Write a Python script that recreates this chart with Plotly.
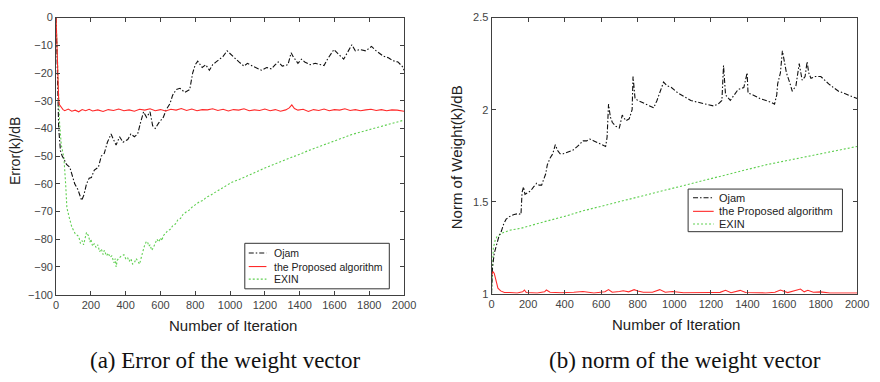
import plotly.graph_objects as go

W, H = 880, 382

# ---------------- data ----------------
# (a) Error of the weight vector
a_ojam_x = [0, 8, 15, 25, 35, 45, 60, 79, 95, 107,
            125, 147, 160, 175, 190, 203, 220, 243, 260, 277,
            295, 316, 330, 345, 365, 385, 412, 430, 450, 469,
            485, 503, 520, 540, 555, 570, 590, 616, 635, 655,
            670, 690, 712, 740, 768, 785, 800, 814, 840, 860,
            881, 900, 920, 938, 960, 983, 1000, 1020, 1051, 1080,
            1100, 1130, 1160, 1181, 1210, 1238, 1260, 1277, 1300, 1333,
            1351, 1362, 1390, 1410, 1429, 1460, 1490, 1520, 1540, 1560,
            1580, 1597, 1620, 1653, 1680, 1700, 1720, 1746, 1780, 1813,
            1840, 1860, 1881, 1910, 1938, 1965, 1994, 2000]
a_ojam_y = [0, -22, -40, -48, -50, -51, -53, -54, -58, -60,
            -62, -66, -64, -60, -58, -57.7, -55, -54, -50, -49,
            -45, -42, -44, -46, -43, -45, -44, -42, -43, -42,
            -38, -34, -36, -34, -39, -40, -38, -36, -33, -31,
            -28, -26, -25.5, -27, -26, -20, -17, -15.7, -18, -17,
            -19, -17, -16, -15, -14, -12, -13, -14.5, -16, -17.5,
            -16.5, -17.5, -18.5, -19, -18, -18.5, -17, -16, -17.5, -17,
            -12.7, -14, -16.5, -15, -16, -17, -16.5, -17, -17.3, -15,
            -13, -11.5, -13, -15, -12, -9.8, -12, -11.5, -12, -10.4,
            -12, -13, -13.9, -14.5, -15.6, -16, -17.9, -19]

a_prop_x = [0, 5, 10, 15, 20, 30, 40, 50, 70, 90,
            110, 130, 150, 170, 190, 210, 240, 270, 300, 330,
            360, 390, 420, 450, 480, 510, 540, 570, 600, 630,
            660, 690, 720, 750, 780, 810, 840, 870, 900, 930,
            960, 990, 1020, 1050, 1080, 1110, 1140, 1170, 1200, 1230,
            1260, 1290, 1320, 1340, 1355, 1370, 1390, 1420, 1450, 1480,
            1510, 1540, 1570, 1600, 1630, 1660, 1690, 1720, 1750, 1780,
            1810, 1840, 1870, 1900, 1930, 1960, 1990, 2000]
a_prop_y = [0, -14, -26, -30, -31.5, -32.5, -33.2, -33.6, -33.0, -33.8,
            -33.4, -34.0, -33.2, -33.6, -33.1, -33.7, -33.3, -33.9, -33.2, -33.5,
            -33.0, -33.6, -33.3, -33.8, -33.1, -33.4, -32.9, -33.6, -33.2, -33.7,
            -33.1, -33.4, -32.8, -33.5, -33.0, -33.6, -33.2, -33.3, -32.9, -33.5,
            -33.1, -33.7, -33.2, -33.4, -32.9, -33.6, -33.3, -33.5, -33.0, -33.6,
            -33.2, -33.8, -33.3, -32.6, -31.5, -32.8, -33.4, -33.1, -33.9, -33.2,
            -33.5, -33.0, -33.6, -33.2, -33.4, -32.9, -33.5, -33.2, -33.6, -33.3,
            -33.1, -33.5, -33.2, -33.6, -33.3, -33.4, -33.7, -33.8]

a_exin_x = [0, 10, 20, 30, 45, 55, 62, 75, 90, 110,
            130, 140, 150, 158, 165, 175, 186, 195, 200, 210,
            220, 230, 240, 250, 260, 270, 277, 290, 300, 310,
            320, 333, 340, 345, 352, 360, 375, 390, 400, 410,
            420, 430, 440, 450, 460, 469, 480, 490, 495, 505,
            510, 518, 525, 533, 540, 550, 559, 570, 580, 590,
            600, 608, 616, 628, 640, 655, 672, 686, 700, 715,
            730, 751, 765, 780, 800, 825, 845, 860, 890, 921,
            950, 980, 1011, 1050, 1100, 1164, 1200, 1250, 1316, 1350,
            1400, 1450, 1500, 1550, 1616, 1650, 1700, 1750, 1802, 1850,
            1900, 1950, 2000]
a_exin_y = [0, -20, -38, -46, -50.6, -60, -68.6, -72, -75.5, -78,
            -79, -81.5, -80.5, -82, -80, -77.5, -78.7, -81, -80, -82.5,
            -81.6, -83, -82, -84.5, -83.5, -85.5, -84, -86, -85, -86.5,
            -86, -88.5, -87, -90, -87.5, -87, -86, -85.6, -87, -86.5,
            -88, -87, -89, -88.5, -87, -87.8, -89, -86.5, -85, -83,
            -82, -81, -80.8, -82.5, -82, -84, -83, -81, -80, -81,
            -79.5, -80.5, -78.7, -78, -77, -76.5, -75, -74.5, -73, -72.5,
            -71, -70, -69.5, -68.5, -67.5, -66.4, -66, -65, -64, -62.8,
            -61.5, -60.5, -59.4, -58.5, -57, -55.2, -54.3, -53, -51.5, -50.5,
            -49.3, -48, -46.8, -45.6, -44, -43.2, -42.2, -41.3, -40.4, -39.5,
            -38.6, -37.8, -37]

# (b) norm of the weight vector
b_ojam_x = [0, 5, 15, 27, 40, 54, 67, 80, 100, 124,
            145, 161, 167, 175, 183, 200, 215, 230, 247, 260,
            274, 285, 296, 305, 312, 322, 335, 349, 360, 375,
            392, 420, 446, 470, 500, 520, 538, 560, 581, 600,
            624, 632, 640, 650, 661, 680, 699, 715, 735, 753,
            769, 774, 780, 785, 800, 823, 845, 866, 887, 905,
            919, 930, 941, 960, 984, 1020, 1054, 1090, 1129, 1170,
            1215, 1240, 1260, 1269, 1275, 1280, 1306, 1330, 1349, 1380,
            1398, 1403, 1430, 1468, 1500, 1530, 1548, 1560, 1565, 1580,
            1591, 1600, 1613, 1630, 1645, 1665, 1683, 1699, 1715, 1726,
            1735, 1747, 1770, 1801, 1820, 1844, 1870, 1898, 1925, 1952,
            1975, 2000]
b_ojam_y = [1.0, 1.14, 1.22, 1.27, 1.31, 1.34, 1.38, 1.405, 1.42, 1.43,
            1.435, 1.43, 1.55, 1.58, 1.54, 1.55, 1.56, 1.58, 1.6, 1.59,
            1.59, 1.62, 1.65, 1.70, 1.72, 1.74, 1.76, 1.81, 1.78, 1.76,
            1.76, 1.77, 1.78, 1.80, 1.83, 1.83, 1.84, 1.83, 1.82, 1.81,
            1.80, 1.85, 2.03, 1.96, 1.93, 1.91, 1.90, 1.97, 1.94, 1.95,
            2.0, 2.18, 2.10, 2.06, 2.05, 2.04, 2.03, 2.02, 2.01, 2.05,
            2.09, 2.13, 2.15, 2.13, 2.12, 2.09, 2.07, 2.05, 2.04, 2.03,
            2.02, 2.03, 2.05, 2.24, 2.12, 2.08, 2.05, 2.08, 2.11, 2.12,
            2.20, 2.09, 2.08, 2.06, 2.05, 2.04, 2.03, 2.08, 2.14, 2.20,
            2.32, 2.27, 2.20, 2.15, 2.10, 2.13, 2.25, 2.16, 2.18, 2.26,
            2.20, 2.17, 2.18, 2.18, 2.16, 2.14, 2.12, 2.10, 2.09, 2.08,
            2.07, 2.06]

b_prop_x = [0, 8, 15, 25, 35, 50, 70, 100, 140, 170,
            180, 190, 250, 290, 300, 320, 380, 450, 500, 560,
            620, 640, 660, 700, 720, 750, 780, 800, 830, 880,
            920, 950, 990, 1050, 1100, 1150, 1200, 1250, 1280, 1310,
            1360, 1390, 1450, 1500, 1550, 1580, 1620, 1690, 1710, 1730,
            1760, 1800, 1850, 1900, 1950, 2000]
b_prop_y = [1.10, 1.12, 1.11, 1.06, 1.03, 1.015, 1.006, 1.006, 1.004, 1.01,
            1.02, 1.006, 1.004, 1.01, 1.02, 1.008, 1.005, 1.008, 1.012, 1.004,
            1.01, 1.022, 1.008, 1.012, 1.016, 1.01, 1.022, 1.015, 1.008, 1.008,
            1.022, 1.008, 1.012, 1.005, 1.004, 1.005, 1.006, 1.007, 1.018, 1.005,
            1.018, 1.006, 1.005, 1.004, 1.008, 1.02, 1.006, 1.025, 1.01, 1.018,
            1.008, 1.01, 1.004, 1.004, 1.004, 1.004]

b_exin_x = [0, 5, 10, 20, 30, 60, 100, 160, 200, 285,
            400, 500, 600, 700, 800, 900, 1000, 1100, 1200, 1300,
            1400, 1500, 1600, 1700, 1800, 1900, 2000]
b_exin_y = [1.0, 1.15, 1.25, 1.29, 1.31, 1.33, 1.345, 1.355, 1.365, 1.39,
            1.42, 1.45, 1.475, 1.50, 1.525, 1.55, 1.575, 1.60, 1.625, 1.65,
            1.675, 1.70, 1.72, 1.74, 1.76, 1.78, 1.80]

series_names = ["Ojam", "the Proposed algorithm", "EXIN"]
x_ticks = [0, 200, 400, 600, 800, 1000, 1200, 1400, 1600, 1800, 2000]
a_y_ticks = [0, -10, -20, -30, -40, -50, -60, -70, -80, -90, -100]
b_y_ticks = [1, 1.5, 2, 2.5]
x_title = "Number of Iteration"
a_y_title = "Error(k)/dB"
b_y_title = "Norm of Weight(k)/dB"
captions = ["(a) Error of the weight vector", "(b) norm of the weight vector"]

# ---------------- styles ----------------
C_OJAM = "#111111"
C_PROP = "#ff2a2a"
C_EXIN = "#5fcf50"
D_OJAM = "5px,2px,1.5px,2px"
D_EXIN = "2px,2px"
AXC = "#404040"
SANS = "Liberation Sans, Arial, sans-serif"
SERIF = "Liberation Serif, Times New Roman, serif"


def px(x):
    return x / W


def py(y):
    return 1 - y / H


fig = go.Figure()

for (xs, ys, col, dash, nm, ax) in [
    (a_exin_x, a_exin_y, C_EXIN, D_EXIN, series_names[2], 1),
    (a_ojam_x, a_ojam_y, C_OJAM, D_OJAM, series_names[0], 1),
    (a_prop_x, a_prop_y, C_PROP, "solid", series_names[1], 1),
    (b_exin_x, b_exin_y, C_EXIN, D_EXIN, series_names[2], 2),
    (b_ojam_x, b_ojam_y, C_OJAM, D_OJAM, series_names[0], 2),
    (b_prop_x, b_prop_y, C_PROP, "solid", series_names[1], 2),
]:
    fig.add_trace(go.Scatter(
        x=xs, y=ys, mode="lines", name=nm, showlegend=False,
        line=dict(color=col, width=1.1, dash=dash),
        xaxis="x" if ax == 1 else "x2", yaxis="y" if ax == 1 else "y2",
    ))

axis_common = dict(
    showline=True, mirror="ticks", linecolor=AXC, linewidth=1,
    ticks="inside", ticklen=4, tickcolor=AXC, tickwidth=1,
    showgrid=False, zeroline=False,
    tickfont=dict(family=SANS, size=11, color="#444444"),
)

fig.update_layout(
    width=W, height=H, autosize=False,
    margin=dict(l=0, r=0, t=0, b=0),
    paper_bgcolor="white", plot_bgcolor="white",
    xaxis=dict(domain=[px(54), px(408)], range=[0, 2000], tickvals=x_ticks,
               anchor="y", **axis_common),
    yaxis=dict(domain=[py(298), py(12)], range=[-100, 0], tickvals=a_y_ticks,
               anchor="x", **axis_common),
    xaxis2=dict(domain=[px(497), px(869)], range=[0, 2000], tickvals=x_ticks,
                anchor="y2", **axis_common),
    yaxis2=dict(domain=[py(297), py(12)], range=[1, 2.5], tickvals=b_y_ticks,
                ticktext=["1", "1.5", "2", "2.5"], anchor="x2", **axis_common),
)

annotations = []
shapes = []

# axis titles
annotations.append(dict(text=x_title, x=px(234), y=py(330), xref="paper", yref="paper",
                        showarrow=False, xanchor="center", yanchor="middle",
                        font=dict(family=SANS, size=15, color="#222")))
annotations.append(dict(text=x_title, x=px(685), y=py(329), xref="paper", yref="paper",
                        showarrow=False, xanchor="center", yanchor="middle",
                        font=dict(family=SANS, size=15, color="#222")))
annotations.append(dict(text=a_y_title, x=px(13), y=py(150), xref="paper", yref="paper",
                        showarrow=False, textangle=-90, xanchor="center", yanchor="middle",
                        font=dict(family=SANS, size=14, color="#222")))
annotations.append(dict(text=b_y_title, x=px(461), y=py(156), xref="paper", yref="paper",
                        showarrow=False, textangle=-90, xanchor="center", yanchor="middle",
                        font=dict(family=SANS, size=15, color="#222")))

# captions
annotations.append(dict(text=captions[0], x=px(226), y=py(366), xref="paper", yref="paper",
                        showarrow=False, xanchor="center", yanchor="middle",
                        font=dict(family=SERIF, size=23, color="#111")))
annotations.append(dict(text=captions[1], x=px(694), y=py(366), xref="paper", yref="paper",
                        showarrow=False, xanchor="center", yanchor="middle",
                        font=dict(family=SERIF, size=23, color="#111")))


# custom legends (box, line samples, labels)
def add_legend(x0, y0, x1, y1, sx0, sx1, tx, rows, fsize):
    shapes.append(dict(type="rect", xref="paper", yref="paper",
                       x0=px(x0), x1=px(x1), y0=py(y1), y1=py(y0),
                       line=dict(color="#333", width=1), fillcolor="white", layer="above"))
    styles = [(C_OJAM, D_OJAM), (C_PROP, "solid"), (C_EXIN, D_EXIN)]
    for ry, (col, dash), nm in zip(rows, styles, series_names):
        shapes.append(dict(type="line", xref="paper", yref="paper",
                           x0=px(sx0), x1=px(sx1), y0=py(ry), y1=py(ry),
                           line=dict(color=col, width=1.1, dash=dash), layer="above"))
        annotations.append(dict(text=nm, x=px(tx), y=py(ry), xref="paper", yref="paper",
                                showarrow=False, xanchor="left", yanchor="middle",
                                font=dict(family=SANS, size=fsize, color="#222")))


add_legend(246, 245, 393, 292, 250, 268, 274, [255, 269, 282], 10.5)
add_legend(697, 189, 854, 233, 702, 723, 726, [198, 212, 225], 11)

fig.update_layout(annotations=annotations, shapes=shapes)

fig.write_html("out.html")
